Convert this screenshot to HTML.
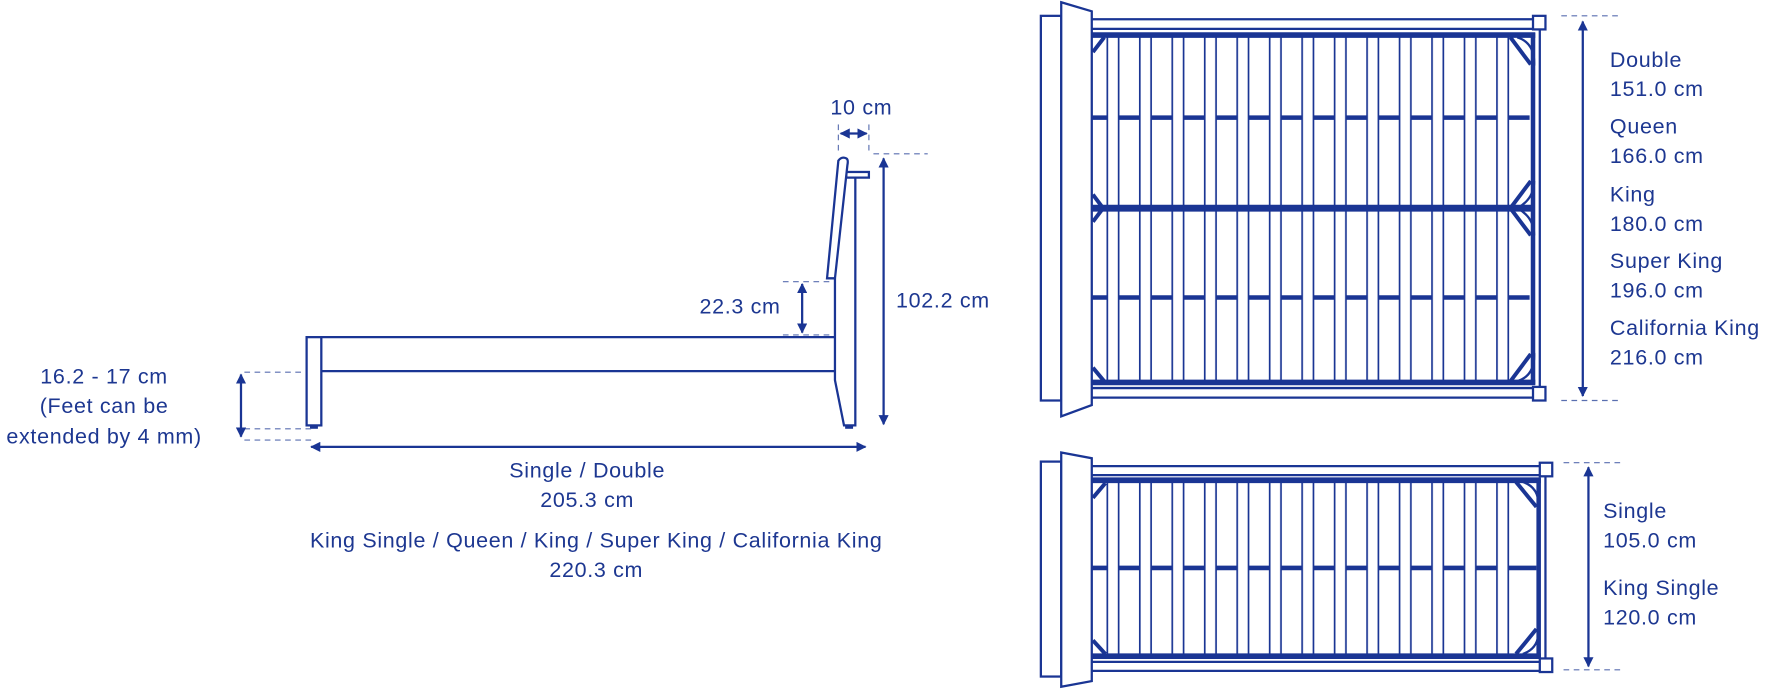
<!DOCTYPE html>
<html><head><meta charset="utf-8"><style>
html,body{margin:0;padding:0;background:#fff;}
svg{display:block;}
text{font-family:"Liberation Sans",sans-serif;fill:#1d3791;font-size:19px;letter-spacing:0.6px;}
</style></head><body>
<svg width="1774" height="689" viewBox="0 0 1568 609" xmlns="http://www.w3.org/2000/svg">
<defs>
<pattern id="sl" patternUnits="userSpaceOnUse" x="978" y="0" width="28.7" height="609">
<rect x="0.75" y="-5" width="10" height="620" fill="#fff" stroke="#1a3594" stroke-width="1.5"/>
</pattern>
<marker id="ah" viewBox="0 0 10 10" refX="9" refY="5" markerWidth="9" markerHeight="9" orient="auto-start-reverse" markerUnits="userSpaceOnUse"><path d="M0,0 L10,5 L0,10 z" fill="#1a3594"/></marker>
</defs>
<g stroke="#1a3594" fill="none" stroke-width="2">
<rect x="271" y="298" width="13" height="78" fill="#fff"/>
<rect x="274" y="376" width="7" height="3" fill="#1a3594" stroke="none"/>
<line x1="284" y1="298" x2="738" y2="298"/>
<line x1="284" y1="328" x2="738" y2="328"/>
<path d="M738,246 L738,336 L746,376 L756,376 L756,156" fill="#fff"/>
<rect x="748" y="152" width="20" height="5" fill="#fff"/>
<path d="M741,142 Q744,138 748,140 Q750,141 749,146 L738,246 L731,246 Z" fill="#fff"/>
<rect x="747" y="376" width="7" height="3" fill="#1a3594" stroke="none"/>
<g stroke-width="1" stroke-dasharray="5,4" stroke="#5a6fb0">
<line x1="741" y1="110" x2="741" y2="136"/><line x1="768" y1="110" x2="768" y2="136"/>
<line x1="772" y1="136" x2="820" y2="136"/>
<line x1="692" y1="249" x2="736" y2="249"/><line x1="692" y1="296" x2="736" y2="296"/>
<line x1="216" y1="329" x2="270" y2="329"/><line x1="216" y1="379" x2="276" y2="379"/><line x1="216" y1="389" x2="276" y2="389"/>
</g>
<line x1="743" y1="118" x2="766" y2="118" marker-start="url(#ah)" marker-end="url(#ah)"/>
<line x1="781" y1="140" x2="781" y2="375" marker-start="url(#ah)" marker-end="url(#ah)"/>
<line x1="709" y1="251" x2="709" y2="294" marker-start="url(#ah)" marker-end="url(#ah)"/>
<line x1="213" y1="331" x2="213" y2="386" marker-start="url(#ah)" marker-end="url(#ah)"/>
<line x1="275" y1="395" x2="765" y2="395" marker-start="url(#ah)" marker-end="url(#ah)"/>

<rect x="920" y="14" width="18" height="340" fill="#fff"/>
<line x1="965" y1="17" x2="1358" y2="17"/><line x1="965" y1="25.5" x2="1358" y2="25.5"/>
<line x1="965" y1="343" x2="1358" y2="343"/><line x1="965" y1="351.5" x2="1358" y2="351.5"/>
<line x1="1361" y1="26" x2="1361" y2="342"/>
<line x1="965" y1="104" x2="1352" y2="104" stroke-width="4"/>
<line x1="965" y1="263" x2="1352" y2="263" stroke-width="4"/>
<rect x="975" y="31" width="362" height="306" fill="url(#sl)" stroke="none"/>
<line x1="965" y1="31" x2="1357" y2="31" stroke-width="5"/>
<line x1="965" y1="338" x2="1357" y2="338" stroke-width="5"/>
<line x1="965" y1="184" x2="1355" y2="184" stroke-width="6"/>
<line x1="1355" y1="29" x2="1355" y2="340" stroke-width="4"/>
<g stroke-width="3.5">
<line x1="966" y1="46" x2="976" y2="33"/><line x1="966" y1="325" x2="976" y2="337"/>
<line x1="966" y1="172" x2="975" y2="184"/><line x1="966" y1="196" x2="975" y2="184"/>
<line x1="1335" y1="33" x2="1353" y2="57"/><line x1="1335" y1="337" x2="1353" y2="313"/>
<line x1="1335" y1="184" x2="1353" y2="160"/><line x1="1335" y1="184" x2="1353" y2="208"/>
</g>
<path d="M1341,33 Q1357,38 1356,58 M1341,337 Q1357,332 1356,312 M1341,184 Q1356,176 1356,160 M1341,184 Q1356,192 1356,208" stroke-width="2"/>
<rect x="1355" y="14" width="11" height="12" fill="#fff"/>
<rect x="1355" y="342" width="11" height="12" fill="#fff"/>
<path d="M938,2 L965,10 L965,358 L938,368 Z" fill="#fff"/>
<g stroke-width="1" stroke-dasharray="5,4" stroke="#5a6fb0">
<line x1="1380" y1="14" x2="1430" y2="14"/><line x1="1380" y1="354" x2="1430" y2="354"/>
<line x1="1382" y1="409" x2="1434" y2="409"/><line x1="1382" y1="592" x2="1434" y2="592"/>
</g>
<line x1="1399" y1="19" x2="1399" y2="350" marker-start="url(#ah)" marker-end="url(#ah)"/>

<rect x="920" y="408" width="18" height="190" fill="#fff"/>
<line x1="965" y1="412" x2="1365" y2="412"/><line x1="965" y1="420" x2="1365" y2="420"/>
<line x1="965" y1="585" x2="1365" y2="585"/><line x1="965" y1="593" x2="1365" y2="593"/>
<line x1="1366" y1="420" x2="1366" y2="584"/>
<line x1="965" y1="502" x2="1358" y2="502" stroke-width="4"/>
<rect x="975" y="424" width="368" height="156" fill="url(#sl)" stroke="none"/>
<line x1="965" y1="424.5" x2="1362" y2="424.5" stroke-width="5"/>
<line x1="965" y1="580" x2="1362" y2="580" stroke-width="5"/>
<line x1="1360" y1="423" x2="1360" y2="582" stroke-width="4"/>
<g stroke-width="3.5">
<line x1="966" y1="440" x2="977" y2="427"/><line x1="966" y1="566" x2="977" y2="578"/>
<line x1="1340" y1="426" x2="1358" y2="448"/><line x1="1340" y1="578" x2="1358" y2="556"/>
</g>
<path d="M1346,426 Q1361,431 1360,449 M1346,578 Q1361,573 1360,555" stroke-width="2"/>
<rect x="1361" y="409" width="11" height="12" fill="#fff"/>
<rect x="1361" y="582" width="11" height="12" fill="#fff"/>
<path d="M938,400 L965,405 L965,602 L938,607 Z" fill="#fff"/>
<line x1="1404" y1="413" x2="1404" y2="589" marker-start="url(#ah)" marker-end="url(#ah)"/>
</g>

<text x="734" y="101">10 cm</text>
<text x="792" y="272">102.2 cm</text>
<text x="690" y="277" text-anchor="end">22.3 cm</text>
<text x="92" y="339" text-anchor="middle">16.2 - 17 cm</text>
<text x="92" y="365" text-anchor="middle">(Feet can be</text>
<text x="92" y="392" text-anchor="middle">extended by 4 mm)</text>
<text x="519" y="422" text-anchor="middle">Single / Double</text>
<text x="519" y="448" text-anchor="middle">205.3 cm</text>
<text x="527" y="484" text-anchor="middle">King Single / Queen / King / Super King / California King</text>
<text x="527" y="510" text-anchor="middle">220.3 cm</text>
<text x="1423" y="59">Double</text><text x="1423" y="85">151.0 cm</text>
<text x="1423" y="118">Queen</text><text x="1423" y="144">166.0 cm</text>
<text x="1423" y="178">King</text><text x="1423" y="204">180.0 cm</text>
<text x="1423" y="237">Super King</text><text x="1423" y="263">196.0 cm</text>
<text x="1423" y="296">California King</text><text x="1423" y="322">216.0 cm</text>
<text x="1417" y="458">Single</text><text x="1417" y="484">105.0 cm</text>
<text x="1417" y="526">King Single</text><text x="1417" y="552">120.0 cm</text>
</svg>
</body></html>
